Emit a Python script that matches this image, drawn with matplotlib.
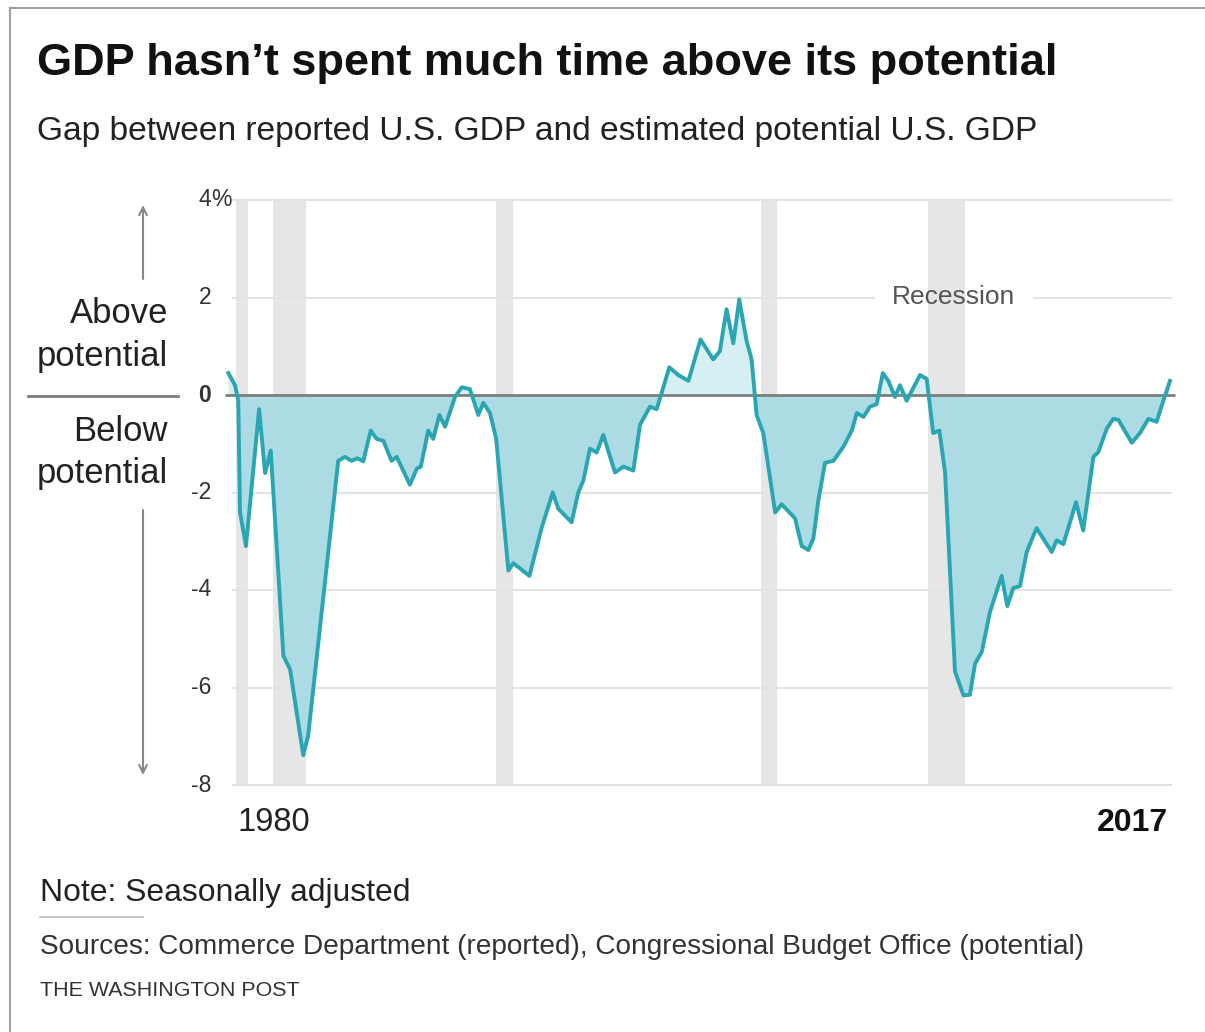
import numpy as np
import matplotlib
matplotlib.use("Agg")
import matplotlib.pyplot as plt
import matplotlib.transforms as mtransforms
from matplotlib.lines import Line2D
from matplotlib.patches import FancyArrowPatch

W, H = 1205, 1032

# quarterly output gap (year, percent of potential)
years = [1979.70, 1979.97, 1980.10, 1980.17, 1980.41, 1980.94, 1981.18, 1981.41,
         1981.92, 1982.19, 1982.72, 1982.92, 1984.13, 1984.40, 1984.67, 1984.90,
         1985.14, 1985.44, 1985.68, 1985.95, 1986.28, 1986.49, 1987.02, 1987.30,
         1987.46, 1987.76, 1987.96, 1988.21, 1988.44, 1988.84, 1989.11, 1989.44,
         1989.78, 1989.98, 1990.25, 1990.50, 1990.99, 1991.19, 1991.84, 1992.33,
         1992.78, 1993.00, 1993.54, 1993.81, 1994.01, 1994.28, 1994.55, 1994.82,
         1995.29, 1995.63, 1996.03, 1996.30, 1996.70, 1996.97, 1997.17, 1997.48,
         1997.84, 1998.25, 1998.74, 1999.25, 1999.52, 1999.79, 2000.06, 2000.30,
         2000.60, 2000.80, 2001.00, 2001.27, 2001.75, 2002.01, 2002.55, 2002.82,
         2003.09, 2003.29, 2003.49, 2003.76, 2004.10, 2004.50, 2004.84, 2005.04,
         2005.31, 2005.57, 2005.84, 2006.09, 2006.31, 2006.58, 2006.78, 2007.05,
         2007.59, 2007.86, 2008.12, 2008.37, 2008.60, 2009.00, 2009.34, 2009.60,
         2009.81, 2010.08, 2010.41, 2010.88, 2011.11, 2011.35, 2011.62, 2011.89,
         2012.29, 2012.90, 2013.10, 2013.37, 2013.88, 2014.17, 2014.58, 2014.78,
         2015.12, 2015.38, 2015.59, 2016.13, 2016.46, 2016.80, 2017.13, 2017.40,
         2017.67]
gap = [0.45, 0.20, -0.12, -2.40, -3.10, -0.29, -1.60, -1.14,
       -5.35, -5.63, -7.39, -6.98, -1.35, -1.27, -1.35, -1.30,
       -1.36, -0.73, -0.90, -0.94, -1.35, -1.27, -1.84, -1.51,
       -1.47, -0.73, -0.90, -0.41, -0.65, -0.04, 0.16, 0.12,
       -0.41, -0.16, -0.37, -0.90, -3.60, -3.45, -3.71, -2.73,
       -2.00, -2.33, -2.61, -2.00, -1.76, -1.10, -1.18, -0.82,
       -1.59, -1.47, -1.55, -0.61, -0.24, -0.29, 0.04, 0.57,
       0.41, 0.29, 1.14, 0.73, 0.90, 1.76, 1.06, 1.96,
       1.10, 0.73, -0.41, -0.78, -2.41, -2.24, -2.53, -3.10,
       -3.18, -2.94, -2.16, -1.39, -1.35, -1.06, -0.73, -0.37,
       -0.45, -0.24, -0.19, 0.45, 0.29, -0.04, 0.20, -0.12,
       0.41, 0.33, -0.78, -0.73, -1.59, -5.67, -6.16, -6.15,
       -5.51, -5.27, -4.45, -3.71, -4.33, -3.96, -3.92, -3.22,
       -2.73, -3.22, -2.98, -3.06, -2.20, -2.78, -1.27, -1.17,
       -0.69, -0.49, -0.51, -0.98, -0.78, -0.49, -0.55, -0.12,
       0.29]
recessions = [(1980.0, 1980.5), (1981.5, 1982.83), (1990.5, 1991.17),
              (2001.17, 2001.83), (2007.92, 2009.42)]
y_ticks = [4, 2, 0, -2, -4, -6, -8]

plt.rcParams['font.family'] = ['Liberation Sans', 'DejaVu Sans']

LINE = '#2aa5b2'
FILL_BELOW = '#acdbe3'
FILL_ABOVE = '#d6eff3'
ZERO = '#7d7d7d'
GRID = '#e3e3e3'
BAND = '#e6e6e6'


def fx(x):
    return x / W


def fy(y):
    return 1 - y / H


fig = plt.figure(figsize=(W / 100, H / 100), dpi=100)

# plot box in pixels: 225..1175 across, 200..785 down
ax = fig.add_axes([fx(225), fy(785), 950 / W, 585 / H])
x0 = 1979.565
ppy = 24.8  # pixels per year
ax.set_xlim(x0, x0 + 950 / ppy)
ax.set_ylim(-8, 4)
ax.axis('off')


def yr(px):
    return x0 + (px - 225) / ppy


for a, b in recessions:
    ax.axvspan(a, b, color=BAND, lw=0, zorder=0)

for v in y_ticks:
    if v == 0:
        continue
    if v == 2:
        # gap left for the "Recession" label
        ax.hlines(v, yr(232), yr(875), color=GRID, lw=1.5, zorder=1, clip_on=False)
        ax.hlines(v, yr(1033), yr(1172), color=GRID, lw=1.5, zorder=1, clip_on=False)
    else:
        ax.hlines(v, yr(232), yr(1172), color=GRID, lw=1.5, zorder=1, clip_on=False)

xs = np.array(years)
ys = np.array(gap)
ax.fill_between(xs, ys, 0, where=ys <= 0, interpolate=True, color=FILL_BELOW, lw=0, zorder=2)
ax.fill_between(xs, ys, 0, where=ys >= 0, interpolate=True, color=FILL_ABOVE, lw=0, zorder=2)
ax.hlines(0, yr(225), yr(1175), color=ZERO, lw=2, zorder=3, clip_on=False)
ax.plot(xs, ys, color=LINE, lw=2.8, solid_joinstyle='round', zorder=4, clip_on=False)

ax.text(yr(953), 2, 'Recession', ha='center', va='center', color='#555555', fontsize=19)

# y labels right-aligned just left of the plot
tr = mtransforms.blended_transform_factory(fig.transFigure, ax.transData)
for v in y_ticks:
    ax.text(fx(211), v, str(v), transform=tr, ha='right', va='center',
            fontsize=16.5, color='#333333',
            fontweight='bold' if v == 0 else 'normal')
ax.text(fx(211), 4, '%', transform=tr, ha='left', va='center', fontsize=16.5, color='#333333')

# left-side annotation
fig.add_artist(Line2D([fx(28), fx(178)], [fy(396), fy(396)], color=ZERO, lw=2))
side = [fig.text(fx(168), fy(323), 'Above', ha='right', va='baseline', fontsize=22, color='#222222'),
        fig.text(fx(168), fy(366), 'potential', ha='right', va='baseline', fontsize=22, color='#222222'),
        fig.text(fx(168), fy(441), 'Below', ha='right', va='baseline', fontsize=22, color='#222222'),
        fig.text(fx(168), fy(483), 'potential', ha='right', va='baseline', fontsize=22, color='#222222')]
arrow = dict(arrowstyle='->', color='#888888', lw=1.5, mutation_scale=14, shrinkA=0, shrinkB=0)
fig.add_artist(FancyArrowPatch((fx(143), fy(279)), (fx(143), fy(205)),
                               transform=fig.transFigure, **arrow))
fig.add_artist(FancyArrowPatch((fx(143), fy(510)), (fx(143), fy(775)),
                               transform=fig.transFigure, **arrow))

# x labels
lab0 = fig.text(fx(237), fy(831), '1980', ha='left', va='baseline', fontsize=22, color='#222222')
lab1 = fig.text(fx(1168), fy(831), '2017', ha='right', va='baseline', fontsize=22,
                fontweight='bold', color='#111111')

# titles and footer
title = fig.text(fx(37), fy(75), 'GDP hasn\u2019t spent much time above its potential',
                 ha='left', va='baseline', fontsize=28, fontweight='bold', color='#111111')
sub = fig.text(fx(37), fy(140), 'Gap between reported U.S. GDP and estimated potential U.S. GDP',
               ha='left', va='baseline', fontsize=22, color='#222222')
note = fig.text(fx(40), fy(901), 'Note: Seasonally adjusted', ha='left', va='baseline',
                fontsize=21, color='#222222')
fig.add_artist(Line2D([fx(40), fx(143)], [fy(917), fy(917)], color='#bbbbbb', lw=1.2))
src = fig.text(fx(40), fy(954), 'Sources: Commerce Department (reported), Congressional Budget Office (potential)',
               ha='left', va='baseline', fontsize=18, color='#333333')
wapo = fig.text(fx(40), fy(996), 'THE WASHINGTON POST', ha='left', va='baseline',
                fontsize=15, color='#333333')

# frame of the original graphic
fig.add_artist(Line2D([fx(10), fx(1205)], [fy(8), fy(8)], color='#a0a0a0', lw=1.5))
fig.add_artist(Line2D([fx(10), fx(10)], [fy(8), fy(1032)], color='#a0a0a0', lw=1.5))

# match text widths to the reference
fig.canvas.draw()
r = fig.canvas.get_renderer()
for t, w in [(title, 1021), (sub, 996), (note, 371), (src, 1043), (wapo, 260),
             (lab0, 73), (lab1, 71)]:
    t.set_fontsize(t.get_fontsize() * w / t.get_window_extent(r).width)
side_size = side[1].get_fontsize() * 130 / side[1].get_window_extent(r).width
for t in side:
    t.set_fontsize(side_size)

fig.savefig('out.png', dpi=100, facecolor='white')
